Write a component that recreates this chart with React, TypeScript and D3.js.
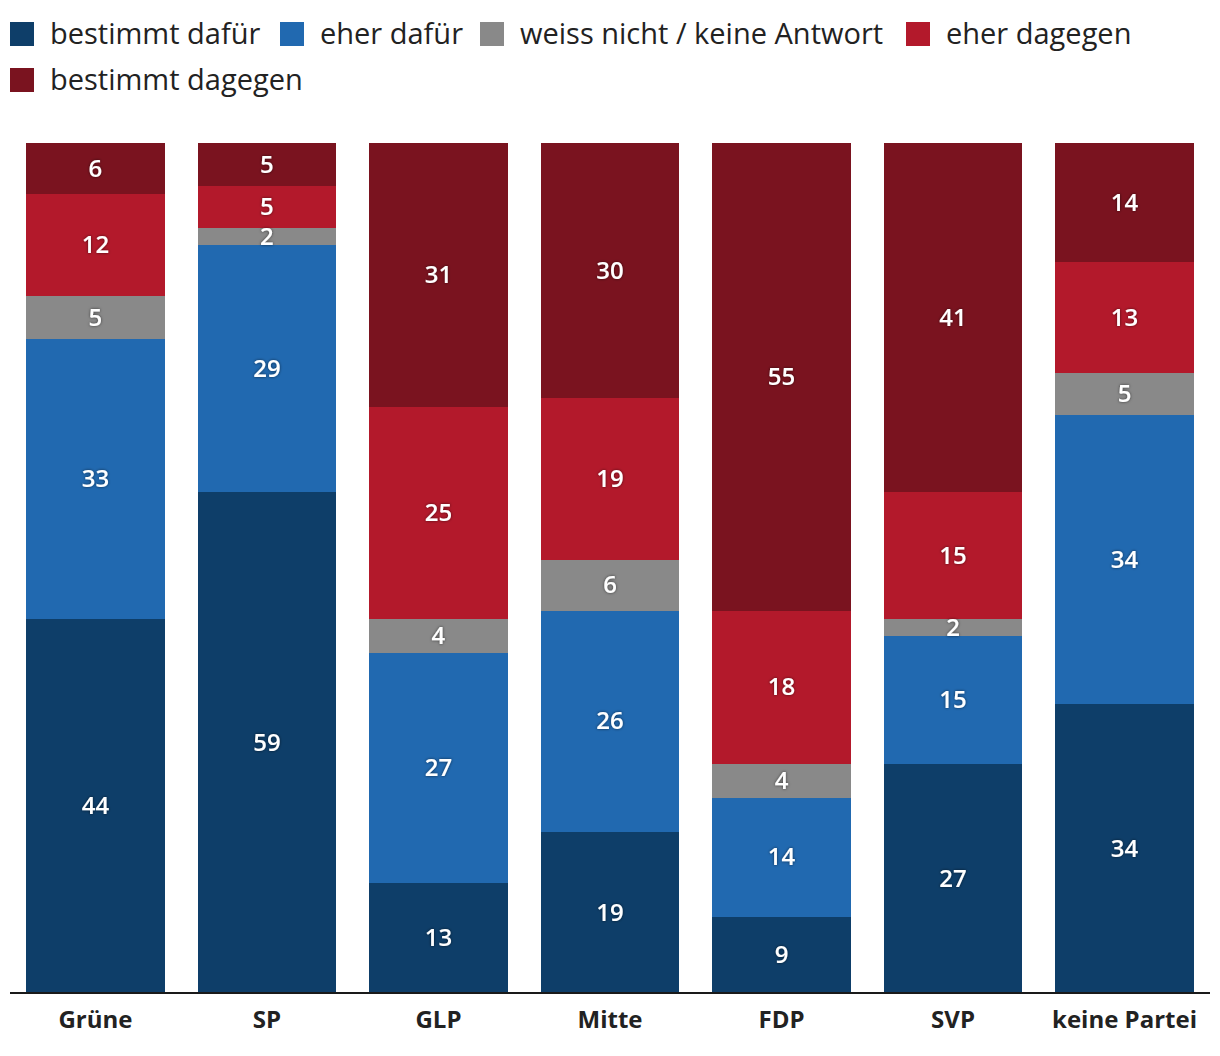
import React from "react";
import * as d3 from "d3";

const parties = ["Grüne", "SP", "GLP", "Mitte", "FDP", "SVP", "keine Partei"];
const seriesNames = ["bestimmt dafür", "eher dafür", "weiss nicht / keine Antwort", "eher dagegen", "bestimmt dagegen"];
const seriesColors = ["#0e3e69", "#2169b0", "#898989", "#b3192b", "#7a131f"];
const bestimmtDafuer = [44, 59, 13, 19, 9, 27, 34];
const eherDafuer = [33, 29, 27, 26, 14, 15, 34];
const weissNicht = [5, 2, 4, 6, 4, 2, 5];
const eherDagegen = [12, 5, 25, 19, 18, 15, 13];
const bestimmtDagegen = [6, 5, 31, 30, 55, 41, 14];

const W = 1220;
const H = 1056;
const FONT = "'Open Sans', 'Noto Sans', sans-serif";

export default function App() {
  const rows = parties.map((p, i) => ({
    party: p,
    s0: bestimmtDafuer[i],
    s1: eherDafuer[i],
    s2: weissNicht[i],
    s3: eherDagegen[i],
    s4: bestimmtDagegen[i],
  }));
  const keys = ["s0", "s1", "s2", "s3", "s4"];
  const stack = d3.stack<any>().keys(keys)(rows);

  const x = d3.scaleBand().domain(parties).range([26, 1194]).paddingInner(0.19).paddingOuter(0);
  const y = d3.scaleLinear().domain([0, 100]).range([993, 143]);

  const legendPos = [
    [10, 22],
    [280, 22],
    [480, 22],
    [906, 22],
    [10, 68],
  ];

  return (
    <svg width={W} height={H} style={{ display: "block", position: "absolute", left: 0, top: 0 }}>
      <defs>
        <filter id="shadow" x="-30%" y="-30%" width="160%" height="160%">
          <feDropShadow dx="0" dy="0" stdDeviation="1.5" floodColor="#000" floodOpacity="0.6" />
        </filter>
      </defs>
      <rect width={W} height={H} fill="#fff" />
      {seriesNames.map((n, i) => (
        <g key={n}>
          <rect x={legendPos[i][0]} y={legendPos[i][1]} width={24} height={24} fill={seriesColors[i]} />
          <text
            x={legendPos[i][0] + 40}
            y={legendPos[i][1] + 22}
            fontFamily={FONT}
            fontSize={29}
            fill="#222"
          >
            {n}
          </text>
        </g>
      ))}
      {stack.map((layer, li) => (
        <g key={li} fill={seriesColors[li]} shapeRendering="crispEdges">
          {layer.map((d: any, i: number) => (
            <rect
              key={i}
              x={x(parties[i])}
              y={Math.round(y(d[1]))}
              width={x.bandwidth()}
              height={Math.round(y(d[0])) - Math.round(y(d[1]))}
            />
          ))}
        </g>
      ))}
      {stack.map((layer, li) => (
        <g key={"l" + li}>
          {layer.map((d: any, i: number) => (
            <text
              key={i}
              x={(x(parties[i]) as number) + x.bandwidth() / 2}
              y={(y(d[0]) + y(d[1])) / 2}
              dy="0.35em"
              textAnchor="middle"
              fontFamily={FONT}
              fontSize={24}
              fontWeight={600}
              fill="#fff"
              filter="url(#shadow)"
            >
              {d[1] - d[0]}
            </text>
          ))}
        </g>
      ))}
      <line x1={10} x2={1210} y1={993} y2={993} stroke="#1a1a1a" strokeWidth={2} />
      {parties.map((p) => (
        <text
          key={p}
          x={(x(p) as number) + x.bandwidth() / 2}
          y={1028}
          textAnchor="middle"
          fontFamily={FONT}
          fontSize={24}
          fontWeight={700}
          fill="#222"
        >
          {p}
        </text>
      ))}
    </svg>
  );
}
